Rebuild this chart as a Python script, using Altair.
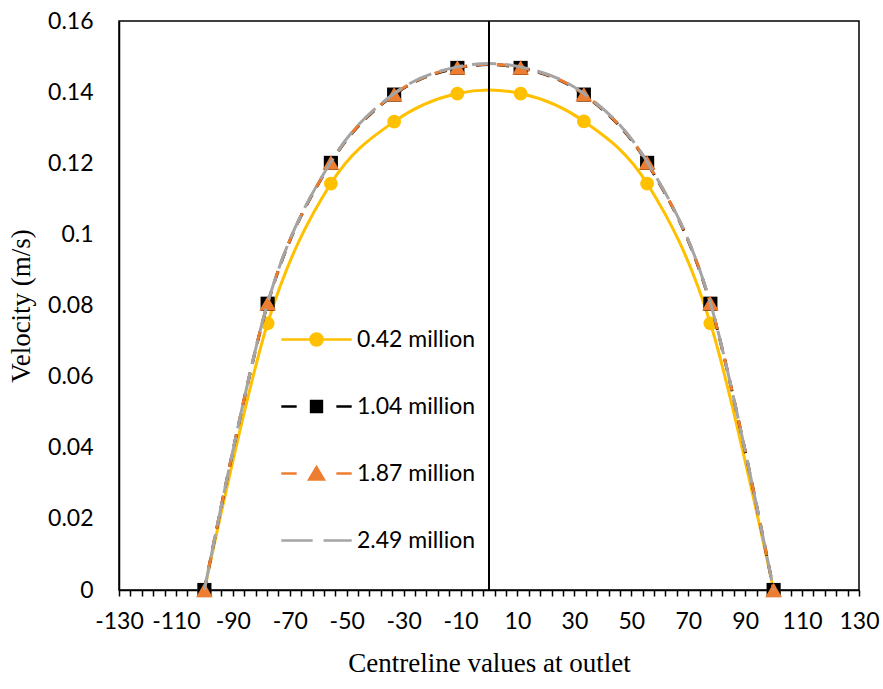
import altair as alt
import pandas as pd

# ---- data ----
x_pos = [-100, -77.78, -55.56, -33.33, -11.11, 11.11, 33.33, 55.56, 77.78, 100]
series_names = ["0.42 million", "1.04 million", "1.87 million", "2.49 million"]
v_042 = [0, 0.0750, 0.1143, 0.1317, 0.1396, 0.1396, 0.1318, 0.1143, 0.0750, 0]
v_104 = [0, 0.0805, 0.1201, 0.1393, 0.1468, 0.1468, 0.1393, 0.1201, 0.0805, 0]
v_187 = [0, 0.0806, 0.1202, 0.1394, 0.1469, 0.1469, 0.1394, 0.1202, 0.0806, 0]
v_249 = [0, 0.0807, 0.1204, 0.1396, 0.1471, 0.1471, 0.1396, 0.1204, 0.0807, 0]
x_tick_labels = [-130, -110, -90, -70, -50, -30, -10, 10, 30, 50, 70, 90, 110, 130]
y_tick_labels = [0, 0.02, 0.04, 0.06, 0.08, 0.1, 0.12, 0.14, 0.16]

colors = ["#FFC000", "#000000", "#ED7D31", "#A5A5A5"]
dashes = [None, [12, 9], [12, 9], [24, 9]]
shapes = ["circle", "square", "triangle-up", None]
marker_sizes = [190, 200, 280, None]

# legend symbols: line + marker drawn as one svg path (unit coords)
legend_paths = [
    "M-1.1,0H1.1M0.19,0A0.19,0.19 0 1,1 -0.19,0A0.19,0.19 0 1,1 0.19,0Z",
    "M-1.1,0H-0.62M0.62,0H1.1M-0.17,-0.17H0.17V0.17H-0.17Z",
    "M-1.1,0H-0.62M0.62,0H1.1M0,-0.2L0.23,0.19H-0.23Z",
    "M-1.1,0H-0.12M0.22,0H1.1",
]

values = [v_042, v_104, v_187, v_249]
rows = []
for name, vals in zip(series_names, values):
    for xv, yv in zip(x_pos, vals):
        rows.append({"series": name, "x": xv, "v": yv})
df = pd.DataFrame(rows)

minor_ticks = list(range(-130, 131, 4))

x_enc = alt.X(
    "x:Q",
    scale=alt.Scale(domain=[-130, 130], nice=False, zero=False),
    axis=alt.Axis(
        values=minor_ticks,
        tickCount=100,
        labelExpr="(datum.value + 130) % 20 == 0 ? '' + datum.value : ''",
        labelOverlap=False,
        labelFlush=False,
        tickSize=6,
        tickWidth=1.5,
        tickColor="black",
        labelPadding=14,
        title="Centreline values at outlet",
        titlePadding=17,
    ),
)
y_enc = alt.Y(
    "v:Q",
    scale=alt.Scale(domain=[0, 0.16], nice=False),
    axis=alt.Axis(
        values=y_tick_labels,
        format="~g",
        ticks=False,
        tickSize=0,
        labelPadding=26,
        title="Velocity (m/s)",
        titlePadding=12,
    ),
)

base = alt.Chart(df)
layers = []
for i, name in enumerate(series_names):
    sub = base.transform_filter(alt.datum.series == name)
    line_kwargs = dict(color=colors[i], strokeWidth=3, interpolate="cardinal")
    if dashes[i]:
        line_kwargs["strokeDash"] = dashes[i]
    layers.append(sub.mark_line(**line_kwargs).encode(x=x_enc, y=y_enc))
    if shapes[i]:
        layers.append(
            sub.mark_point(
                shape=shapes[i], filled=True, color=colors[i], opacity=1,
                size=marker_sizes[i], strokeWidth=0,
            ).encode(x=x_enc, y=y_enc)
        )

legend = alt.Legend(
    title=None,
    orient="none",
    legendX=158,
    legendY=279,
    symbolSize=4096,
    symbolStrokeWidth=2.5,
    symbolOpacity=1,
    labelFont="Lato",
    labelFontSize=23,
    labelColor="black",
    labelOffset=7,
    rowPadding=21,
    padding=6,
    fillColor="white",
)
legend_layer = base.transform_filter("false").mark_point(filled=True, opacity=1).encode(
    x=x_enc,
    y=y_enc,
    shape=alt.Shape("series:N", scale=alt.Scale(domain=series_names, range=legend_paths), legend=legend),
    fill=alt.Fill("series:N", scale=alt.Scale(domain=series_names, range=colors), legend=legend),
    stroke=alt.Stroke("series:N", scale=alt.Scale(domain=series_names, range=colors), legend=legend),
)

zero_rule = base.mark_rule(color="black", strokeWidth=1.5).encode(x=alt.datum(0))

chart = (
    alt.layer(*layers, zero_rule, legend_layer)
    .properties(
        width=740,
        height=569,
        autosize=alt.AutoSizeParams(type="none"),
        padding={"left": 119, "top": 21, "right": 24, "bottom": 99},
    )
    .configure_view(stroke="black", strokeWidth=1.5)
    .configure_axis(
        grid=False,
        labelFont="Lato",
        labelFontSize=23,
        labelColor="black",
        titleFont="Liberation Serif",
        titleFontSize=27,
        titleFontWeight="normal",
        titleColor="black",
        domainColor="black",
        domainWidth=1.5,
    )
)

chart.save("out.html", embed_options={"renderer": "svg", "actions": False})
